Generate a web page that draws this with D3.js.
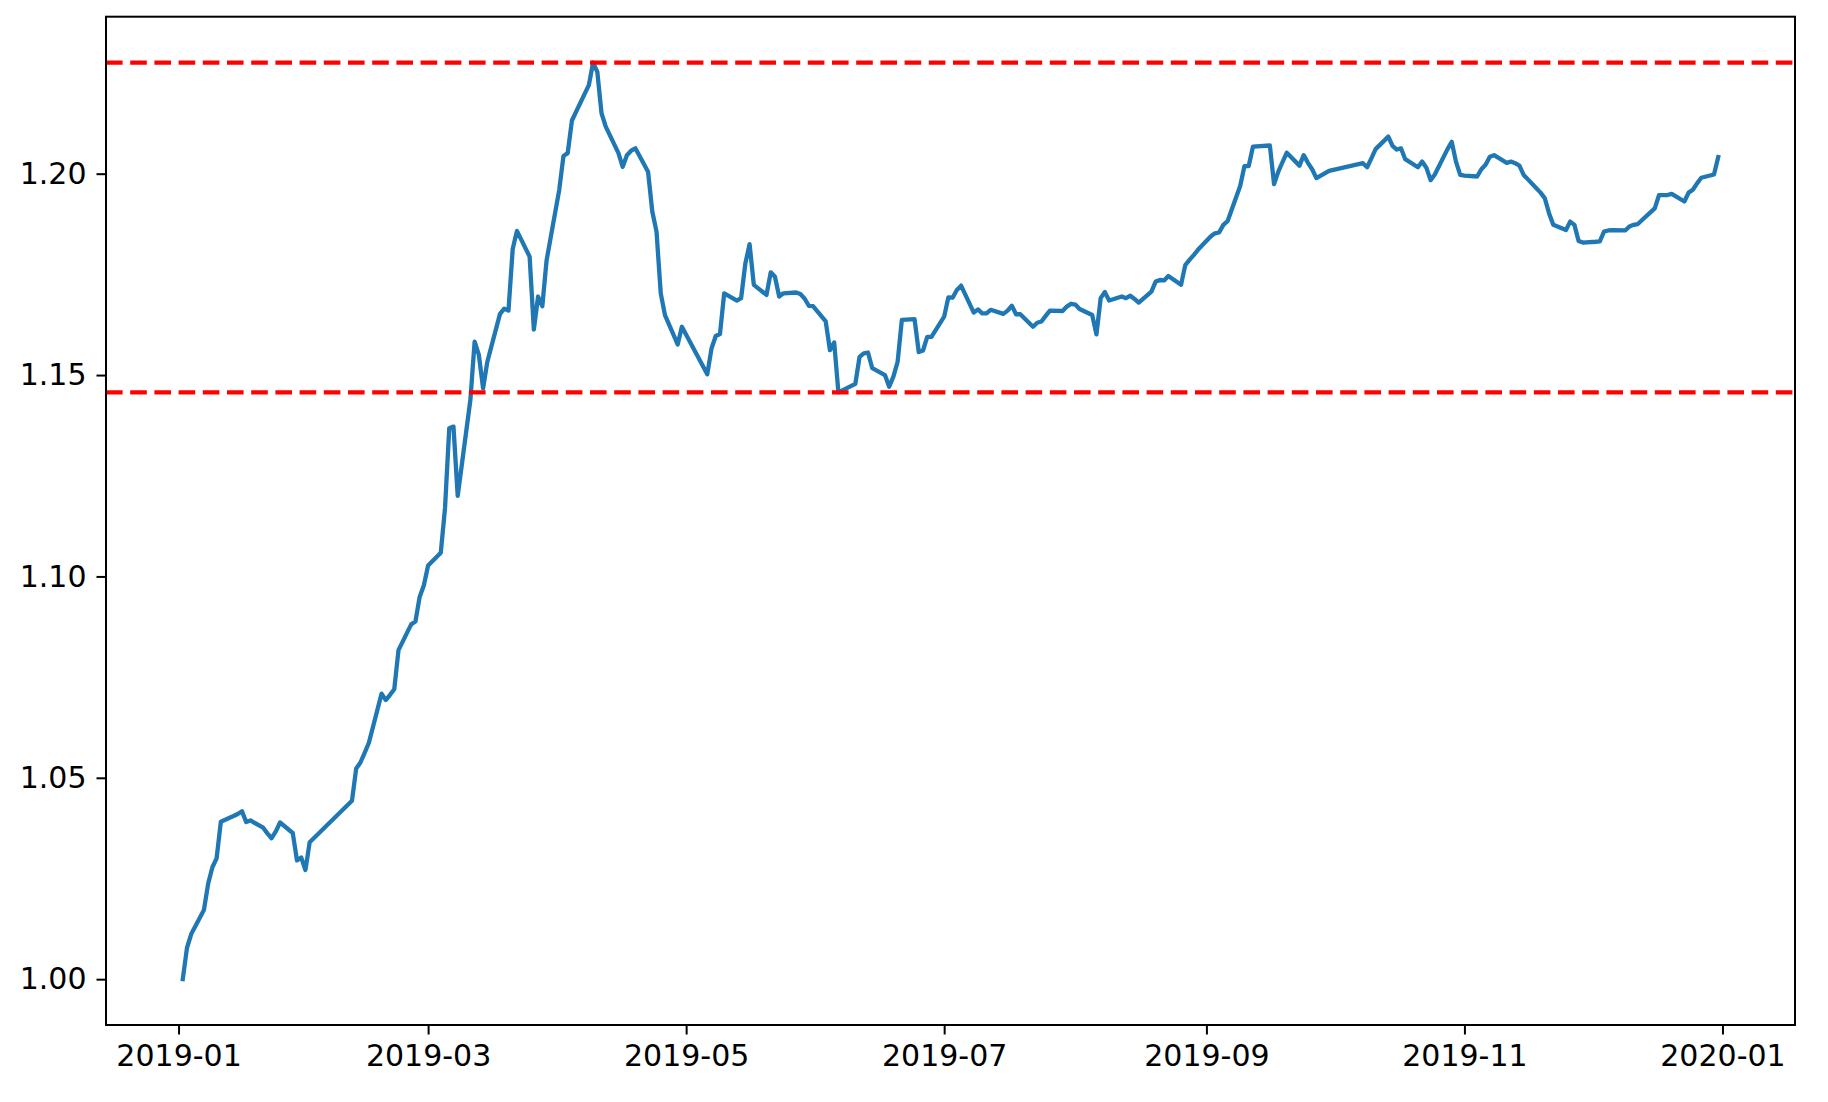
<!DOCTYPE html>
<html>
<head>
<meta charset="utf-8">
<script src="https://cdn.jsdelivr.net/npm/d3@7"></script>
<style>
  html, body { margin: 0; padding: 0; background: #ffffff; }
  svg { display: block; }
  text { font-family: "DejaVu Sans", sans-serif; }
</style>
</head>
<body>
<svg id="chart" width="1828" height="1102"></svg>
<script>
// ---- data ----
const dates = [
  "2019-01-02","2019-01-03","2019-01-04","2019-01-07","2019-01-08","2019-01-09","2019-01-10","2019-01-11",
  "2019-01-14","2019-01-15","2019-01-16","2019-01-17","2019-01-18","2019-01-21","2019-01-22","2019-01-23",
  "2019-01-24","2019-01-25","2019-01-28","2019-01-29","2019-01-30","2019-01-31","2019-02-01","2019-02-11",
  "2019-02-12","2019-02-13","2019-02-14","2019-02-15","2019-02-18","2019-02-19","2019-02-20","2019-02-21",
  "2019-02-22","2019-02-25","2019-02-26","2019-02-27","2019-02-28","2019-03-01","2019-03-04","2019-03-05",
  "2019-03-06","2019-03-07","2019-03-08","2019-03-11","2019-03-12","2019-03-13","2019-03-14","2019-03-15",
  "2019-03-18","2019-03-19","2019-03-20","2019-03-21","2019-03-22","2019-03-25","2019-03-26","2019-03-27",
  "2019-03-28","2019-03-29","2019-04-01","2019-04-02","2019-04-03","2019-04-04","2019-04-08","2019-04-09",
  "2019-04-10","2019-04-11","2019-04-12","2019-04-15","2019-04-16","2019-04-17","2019-04-18","2019-04-19",
  "2019-04-22","2019-04-23","2019-04-24","2019-04-25","2019-04-26","2019-04-29","2019-04-30","2019-05-06",
  "2019-05-07","2019-05-08","2019-05-09","2019-05-10","2019-05-13","2019-05-14","2019-05-15","2019-05-16",
  "2019-05-17","2019-05-20","2019-05-21","2019-05-22","2019-05-23","2019-05-24","2019-05-27","2019-05-28",
  "2019-05-29","2019-05-30","2019-05-31","2019-06-03","2019-06-04","2019-06-05","2019-06-06","2019-06-10",
  "2019-06-11","2019-06-12","2019-06-13","2019-06-14","2019-06-17","2019-06-18","2019-06-19","2019-06-20",
  "2019-06-21","2019-06-24","2019-06-25","2019-06-26","2019-06-27","2019-06-28","2019-07-01","2019-07-02",
  "2019-07-03","2019-07-04","2019-07-05","2019-07-08","2019-07-09","2019-07-10","2019-07-11","2019-07-12",
  "2019-07-15","2019-07-16","2019-07-17","2019-07-18","2019-07-19","2019-07-22","2019-07-23","2019-07-24",
  "2019-07-25","2019-07-26","2019-07-29","2019-07-30","2019-07-31","2019-08-01","2019-08-02","2019-08-05",
  "2019-08-06","2019-08-07","2019-08-08","2019-08-09","2019-08-12","2019-08-13","2019-08-14","2019-08-15",
  "2019-08-16","2019-08-19","2019-08-20","2019-08-21","2019-08-22","2019-08-23","2019-08-26","2019-08-27",
  "2019-08-28","2019-08-29","2019-08-30","2019-09-02","2019-09-03","2019-09-04","2019-09-05","2019-09-06",
  "2019-09-09","2019-09-10","2019-09-11","2019-09-12","2019-09-16","2019-09-17","2019-09-18","2019-09-19",
  "2019-09-20","2019-09-23","2019-09-24","2019-09-25","2019-09-26","2019-09-27","2019-09-30","2019-10-08",
  "2019-10-09","2019-10-10","2019-10-11","2019-10-14","2019-10-15","2019-10-16","2019-10-17","2019-10-18",
  "2019-10-21","2019-10-22","2019-10-23","2019-10-24","2019-10-25","2019-10-28","2019-10-29","2019-10-30",
  "2019-10-31","2019-11-01","2019-11-04","2019-11-05","2019-11-06","2019-11-07","2019-11-08","2019-11-11",
  "2019-11-12","2019-11-13","2019-11-14","2019-11-15","2019-11-18","2019-11-19","2019-11-20","2019-11-21",
  "2019-11-22","2019-11-25","2019-11-26","2019-11-27","2019-11-28","2019-11-29","2019-12-02","2019-12-03",
  "2019-12-04","2019-12-05","2019-12-06","2019-12-09","2019-12-10","2019-12-11","2019-12-12","2019-12-13",
  "2019-12-16","2019-12-17","2019-12-18","2019-12-19","2019-12-20","2019-12-23","2019-12-24","2019-12-25",
  "2019-12-26","2019-12-27","2019-12-30","2019-12-31"
];
const values = [
  1.0000,1.0078,1.0112,1.0172,1.0237,1.0278,1.0300,1.0391,
  1.0405,1.0410,1.0417,1.0390,1.0394,1.0376,1.0362,1.0350,
  1.0367,1.0389,1.0363,1.0295,1.0302,1.0271,1.0340,1.0443,
  1.0523,1.0538,1.0562,1.0587,1.0709,1.0693,1.0706,1.0720,
  1.0817,1.0881,1.0888,1.0949,1.0978,1.1027,1.1059,1.1170,
  1.1368,1.1372,1.1200,1.1439,1.1583,1.1550,1.1467,1.1533,
  1.1652,1.1665,1.1660,1.1813,1.1858,1.1794,1.1613,1.1695,
  1.1671,1.1784,1.1960,1.2044,1.2051,1.2132,1.2220,1.2276,
  1.2253,1.2150,1.2117,1.2051,1.2017,1.2046,1.2057,1.2063,
  1.2005,1.1906,1.1856,1.1703,1.1649,1.1576,1.1620,1.1502,
  1.1566,1.1597,1.1602,1.1703,1.1685,1.1691,1.1777,1.1825,
  1.1724,1.1699,1.1755,1.1744,1.1695,1.1703,1.1705,1.1701,
  1.1690,1.1672,1.1671,1.1633,1.1562,1.1581,1.1457,1.1478,
  1.1545,1.1554,1.1556,1.1517,1.1500,1.1471,1.1496,1.1533,
  1.1637,1.1639,1.1557,1.1561,1.1595,1.1595,1.1645,1.1693,
  1.1692,1.1711,1.1722,1.1655,1.1663,1.1653,1.1653,1.1662,
  1.1652,1.1660,1.1672,1.1651,1.1651,1.1620,1.1630,1.1633,
  1.1647,1.1660,1.1659,1.1670,1.1677,1.1675,1.1664,1.1649,
  1.1601,1.1691,1.1706,1.1685,1.1695,1.1691,1.1697,1.1689,
  1.1680,1.1707,1.1732,1.1736,1.1735,1.1746,1.1724,1.1773,
  1.1786,1.1798,1.1811,1.1844,1.1852,1.1854,1.1873,1.1882,
  1.1970,1.2019,1.2019,1.2067,1.2070,1.1974,1.2005,1.2029,
  1.2052,1.2020,1.2046,1.2027,1.2011,1.1989,1.2007,1.2026,
  1.2016,1.2038,1.2061,1.2092,1.2069,1.2060,1.2063,1.2036,
  1.2016,1.2030,1.2015,1.1984,1.1998,1.2061,1.2079,1.2030,
  1.1997,1.1995,1.1993,1.2011,1.2022,1.2042,1.2046,1.2027,
  1.2030,1.2026,1.2020,1.1997,1.1964,1.1953,1.1939,1.1902,
  1.1873,1.1860,1.1881,1.1873,1.1833,1.1829,1.1831,1.1832,
  1.1856,1.1859,1.1860,1.1859,1.1869,1.1873,1.1875,1.1885,
  1.1914,1.1947,1.1947,1.1947,1.1950,1.1931,1.1953,1.1960,
  1.1976,1.1990,1.1998,1.2041
];
const refLines = [1.2276, 1.1457];
const yTicks = [1.00, 1.05, 1.10, 1.15, 1.20];
const xTicks = ["2019-01-01","2019-03-01","2019-05-01","2019-07-01","2019-09-01","2019-11-01","2020-01-01"];

// ---- layout ----
(function () {
  const W = 1828, H = 1102;
  const mLeft = 106, mRight = 1795, mTop = 16.7, mBottom = 1025;
  const parse = d3.utcParse("%Y-%m-%d");
  const pts = dates.map((d, i) => ({ t: parse(d), v: values[i] }));

  const tExt = d3.extent(pts, d => d.t);
  const tPad = (tExt[1] - tExt[0]) * 0.05;
  const x = d3.scaleUtc()
    .domain([new Date(+tExt[0] - tPad), new Date(+tExt[1] + tPad)])
    .range([mLeft, mRight]);

  const vExt = d3.extent(values);
  const vPad = (vExt[1] - vExt[0]) * 0.05;
  const y = d3.scaleLinear()
    .domain([vExt[0] - vPad, vExt[1] + vPad])
    .range([mBottom, mTop]);

  const svg = d3.select("#chart");
  svg.append("rect").attr("width", W).attr("height", H).attr("fill", "#fff");

  const line = d3.line().x(d => x(d.t)).y(d => y(d.v));
  svg.append("path")
    .datum(pts)
    .attr("d", line)
    .attr("fill", "none")
    .attr("stroke", "#1f77b4")
    .attr("stroke-width", 4.3)
    .attr("stroke-linejoin", "round")
    .attr("stroke-linecap", "square");

  svg.selectAll(".ref")
    .data(refLines)
    .enter().append("line")
    .attr("class", "ref")
    .attr("x1", mLeft).attr("x2", mRight)
    .attr("y1", d => y(d)).attr("y2", d => y(d))
    .attr("stroke", "#ff0000")
    .attr("stroke-width", 4.3)
    .attr("stroke-dasharray", "16.6,7.6");

  const fontSize = 30;
  const xAxis = d3.axisBottom(x)
    .tickValues(xTicks.map(parse))
    .tickFormat(d3.utcFormat("%Y-%m"))
    .tickSize(9.5)
    .tickPadding(10);
  const yAxis = d3.axisLeft(y)
    .tickValues(yTicks)
    .tickFormat(d3.format(".2f"))
    .tickSize(9.5)
    .tickPadding(10);

  const gx = svg.append("g").attr("transform", `translate(0,${mBottom})`).call(xAxis);
  const gy = svg.append("g").attr("transform", `translate(${mLeft},0)`).call(yAxis);
  [gx, gy].forEach(g => {
    g.select(".domain").remove();
    g.selectAll(".tick line").attr("stroke", "#000").attr("stroke-width", 2);
    g.selectAll(".tick text")
      .attr("fill", "#000")
      .style("font-family", "'DejaVu Sans', sans-serif")
      .style("font-size", fontSize + "px");
  });

  svg.append("rect")
    .attr("x", mLeft).attr("y", mTop)
    .attr("width", mRight - mLeft).attr("height", mBottom - mTop)
    .attr("fill", "none")
    .attr("stroke", "#000")
    .attr("stroke-width", 2);
})();
</script>
</body>
</html>
